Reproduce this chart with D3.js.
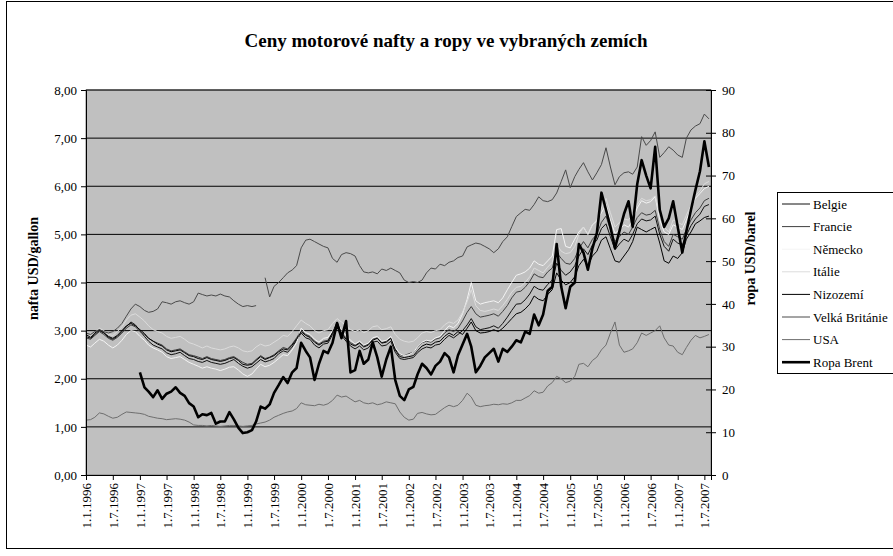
<!DOCTYPE html>
<html>
<head>
<meta charset="utf-8">
<script src="https://cdn.jsdelivr.net/npm/d3@7/dist/d3.min.js"></script>
<style>
  body { margin: 0; background: #fff; }
  svg text { font-family: "Liberation Serif", "Times New Roman", "DejaVu Serif", serif; fill: #000; }
</style>
</head>
<body>
<div id="chart"></div>
<script>
// monthly values, Jan 1996 .. Aug 2007 (USD/gallon)
const belgie = [
  2.88, 2.84, 2.92, 3.00, 2.95, 2.86, 2.82, 2.88, 2.98, 3.08, 3.18, 3.12,
  3.00, 2.88, 2.78, 2.70, 2.66, 2.62, 2.54, 2.50, 2.52, 2.55, 2.48, 2.42,
  2.40, 2.36, 2.34, 2.38, 2.34, 2.32, 2.30, 2.32, 2.36, 2.40, 2.32, 2.26,
  2.22, 2.25, 2.32, 2.40, 2.35, 2.38, 2.42, 2.52, 2.58, 2.55, 2.66, 2.80,
  2.95, 2.85, 2.82, 2.70, 2.64, 2.72, 2.74, 2.92, 3.15, 2.90, 2.78, 2.68,
  2.62, 2.68, 2.60, 2.64, 2.76, 2.78, 2.68, 2.70, 2.78, 2.55, 2.42, 2.40,
  2.42, 2.44, 2.54, 2.62, 2.66, 2.64, 2.70, 2.72, 2.82, 2.90, 2.85, 2.92,
  3.00, 3.12, 3.25, 3.08, 3.02, 3.04, 3.06, 3.10, 3.05, 3.15, 3.28, 3.42,
  3.55, 3.56, 3.64, 3.76, 3.92, 3.86, 3.84, 3.96, 4.05, 4.40, 4.25, 4.15,
  4.22, 4.35, 4.55, 4.70, 4.58, 4.78, 4.88, 5.12, 5.22, 4.95, 4.68, 4.80,
  4.90, 4.85, 5.00, 5.22, 5.32, 5.28, 5.30, 5.38, 5.00, 4.75, 4.65, 4.90,
  4.82, 4.78, 4.98, 5.18, 5.32, 5.42, 5.58, 5.62
];
const francie = [
  2.85, 2.82, 2.90, 2.98, 2.92, 2.84, 2.80, 2.86, 2.95, 3.05, 3.12, 3.08,
  2.98, 2.92, 2.84, 2.78, 2.74, 2.70, 2.62, 2.58, 2.60, 2.62, 2.56, 2.50,
  2.48, 2.45, 2.42, 2.46, 2.42, 2.40, 2.38, 2.40, 2.44, 2.46, 2.40, 2.34,
  2.30, 2.32, 2.40, 2.48, 2.42, 2.45, 2.50, 2.58, 2.65, 2.62, 2.72, 2.85,
  3.00, 2.92, 2.88, 2.78, 2.72, 2.78, 2.80, 2.95, 3.08, 2.95, 2.85, 2.75,
  2.70, 2.75, 2.68, 2.72, 2.82, 2.85, 2.75, 2.78, 2.85, 2.62, 2.50, 2.48,
  2.52, 2.55, 2.65, 2.75, 2.78, 2.76, 2.82, 2.85, 2.95, 3.02, 2.98, 3.05,
  3.20, 3.38, 3.50, 3.35, 3.28, 3.30, 3.32, 3.35, 3.30, 3.40, 3.52, 3.68,
  3.80, 3.82, 3.90, 4.02, 4.18, 4.12, 4.10, 4.22, 4.30, 4.62, 4.50, 4.40,
  4.38, 4.50, 4.70, 4.85, 4.72, 4.90, 5.00, 5.25, 5.38, 5.10, 4.85, 4.95,
  5.05, 5.00, 5.15, 5.35, 5.45, 5.40, 5.42, 5.50, 5.10, 4.85, 4.75, 5.00,
  4.95, 4.90, 5.10, 5.30, 5.45, 5.55, 5.70, 5.75
];
const nemecko = [
  2.70, 2.66, 2.74, 2.82, 2.78, 2.70, 2.64, 2.70, 2.80, 2.92, 3.00, 2.98,
  2.88, 2.80, 2.70, 2.64, 2.60, 2.55, 2.46, 2.42, 2.44, 2.46, 2.40, 2.34,
  2.30, 2.26, 2.22, 2.25, 2.22, 2.20, 2.17, 2.20, 2.24, 2.25, 2.18, 2.10,
  2.05, 2.10, 2.20, 2.30, 2.25, 2.28, 2.34, 2.42, 2.50, 2.48, 2.60, 2.75,
  3.05, 2.96, 2.92, 2.82, 2.76, 2.84, 2.86, 3.00, 3.15, 3.02, 2.90, 2.80,
  2.72, 2.78, 2.70, 2.74, 2.85, 2.88, 2.78, 2.80, 2.88, 2.65, 2.52, 2.48,
  2.50, 2.55, 2.66, 2.76, 2.80, 2.78, 2.85, 2.88, 3.00, 3.10, 3.06, 3.15,
  3.35, 3.65, 4.00, 3.62, 3.55, 3.58, 3.60, 3.62, 3.58, 3.68, 3.85, 4.00,
  4.15, 4.18, 4.22, 4.30, 4.45, 4.38, 4.35, 4.45, 4.55, 5.10, 5.12, 4.75,
  4.72, 4.90, 5.05, 5.15, 5.00, 5.20, 5.28, 5.45, 5.62, 5.30, 5.02, 5.10,
  5.20, 5.15, 5.30, 5.55, 5.70, 5.65, 5.68, 5.78, 5.30, 5.05, 5.00, 5.20,
  5.15, 5.10, 5.30, 5.55, 5.75, 5.85, 5.95, 6.00
];
const italie = [
  2.90, 2.88, 2.96, 3.05, 3.00, 2.92, 2.90, 2.98, 3.08, 3.22, 3.32, 3.35,
  3.28, 3.20, 3.10, 3.02, 2.98, 2.95, 2.88, 2.84, 2.86, 2.88, 2.82, 2.75,
  2.72, 2.68, 2.64, 2.68, 2.64, 2.62, 2.60, 2.62, 2.66, 2.68, 2.64, 2.58,
  2.56, 2.58, 2.66, 2.72, 2.68, 2.70, 2.76, 2.82, 2.90, 2.88, 2.98, 3.10,
  3.22, 3.15, 3.10, 3.00, 2.95, 3.00, 3.02, 3.15, 3.25, 3.18, 3.10, 3.02,
  2.98, 3.02, 2.96, 3.00, 3.08, 3.10, 3.02, 3.04, 3.08, 2.92, 2.82, 2.78,
  2.76, 2.78, 2.85, 2.95, 2.98, 2.96, 3.00, 3.02, 3.12, 3.18, 3.15, 3.22,
  3.38, 3.60, 3.85, 3.52, 3.42, 3.40, 3.42, 3.45, 3.42, 3.52, 3.65, 3.80,
  3.90, 3.92, 4.00, 4.12, 4.30, 4.25, 4.20, 4.32, 4.42, 4.80, 4.65, 4.60,
  4.62, 4.75, 5.00, 5.15, 5.00, 5.20, 5.30, 5.55, 5.75, 5.45, 5.15, 5.25,
  5.32, 5.30, 5.42, 5.62, 5.75, 5.70, 5.72, 5.80, 5.40, 5.15, 5.05, 5.30,
  5.25, 5.20, 5.40, 5.60, 5.80, 5.90, 6.05, 6.10
];
const nizozemi = [
  2.92, 2.86, 2.95, 3.02, 2.96, 2.88, 2.84, 2.90, 3.00, 3.10, 3.15, 3.10,
  3.02, 2.94, 2.84, 2.78, 2.72, 2.68, 2.60, 2.56, 2.58, 2.60, 2.54, 2.48,
  2.46, 2.42, 2.40, 2.44, 2.40, 2.38, 2.36, 2.38, 2.42, 2.44, 2.38, 2.30,
  2.28, 2.30, 2.38, 2.46, 2.40, 2.44, 2.48, 2.56, 2.62, 2.60, 2.70, 2.82,
  2.98, 2.90, 2.86, 2.76, 2.70, 2.76, 2.78, 2.96, 3.18, 2.94, 2.82, 2.72,
  2.68, 2.74, 2.66, 2.70, 2.80, 2.84, 2.74, 2.76, 2.84, 2.60, 2.46, 2.44,
  2.46, 2.48, 2.58, 2.68, 2.72, 2.70, 2.76, 2.78, 2.88, 2.95, 2.90, 2.98,
  2.92, 3.05, 3.18, 3.00, 2.95, 2.96, 2.98, 3.02, 2.98, 3.05, 3.15, 3.25,
  3.35, 3.38, 3.45, 3.55, 3.72, 3.65, 3.62, 3.75, 3.85, 4.20, 4.05, 3.95,
  4.00, 4.12, 4.35, 4.48, 4.35, 4.55, 4.65, 4.88, 4.95, 4.70, 4.45, 4.42,
  4.55, 4.68, 4.85, 5.15, 5.10, 5.05, 5.10, 5.15, 4.82, 4.45, 4.40, 4.55,
  4.50, 4.62, 4.90, 5.05, 5.22, 5.28, 5.35, 5.38
];
const velkaBritanie = [
  2.95, 2.92, 2.98, 3.02, 2.98, 2.95, 2.98, 3.05, 3.15, 3.30, 3.45, 3.55,
  3.50, 3.42, 3.38, 3.40, 3.45, 3.60, 3.58, 3.55, 3.60, 3.62, 3.58, 3.55,
  3.60, 3.78, 3.75, 3.72, 3.74, 3.72, 3.76, 3.72, 3.70, 3.62, 3.55, 3.50,
  3.52, 3.50, 3.52, null, 4.10, 3.70, 3.92, 4.00, 4.10, 4.20, 4.26, 4.35,
  4.72, 4.88, 4.90, 4.85, 4.80, 4.75, 4.72, 4.50, 4.42, 4.58, 4.62, 4.60,
  4.55, 4.35, 4.22, 4.20, 4.22, 4.18, 4.28, 4.25, 4.30, 4.25, 4.20, 4.05,
  4.00, 4.02, 4.00, 4.05, 4.20, 4.30, 4.28, 4.38, 4.35, 4.42, 4.45, 4.52,
  4.55, 4.74, 4.78, 4.82, 4.80, 4.75, 4.70, 4.62, 4.70, 4.85, 4.95, 5.16,
  5.37, 5.45, 5.52, 5.50, 5.62, 5.78, 5.70, 5.68, 5.72, 5.86, 6.10, 6.34,
  5.97, 6.20, 6.35, 6.49, 6.30, 6.13, 6.28, 6.45, 6.80, 6.40, 6.03, 6.20,
  6.28, 6.30, 6.25, 6.40, 7.03, 6.85, 6.95, 7.13, 6.60, 6.70, 6.82, 6.75,
  6.65, 6.60, 7.00, 7.17, 7.25, 7.30, 7.50, 7.40
];
const usa = [
  1.14, 1.15, 1.20, 1.29, 1.27, 1.22, 1.18, 1.20, 1.26, 1.31, 1.30, 1.29,
  1.28, 1.26, 1.22, 1.20, 1.18, 1.17, 1.15, 1.16, 1.17, 1.16, 1.14, 1.10,
  1.04, 1.03, 1.03, 1.02, 1.03, 1.02, 1.01, 1.02, 1.03, 1.03, 1.02, 1.01,
  1.02, 1.03, 1.06, 1.08, 1.10, 1.14, 1.20, 1.24, 1.28, 1.31, 1.33, 1.38,
  1.50, 1.46, 1.45, 1.44, 1.47, 1.45, 1.48, 1.55, 1.66, 1.62, 1.64, 1.58,
  1.52, 1.55, 1.50, 1.48, 1.50, 1.46, 1.48, 1.52, 1.50, 1.48, 1.31, 1.20,
  1.14, 1.16, 1.28, 1.30, 1.27, 1.25, 1.26, 1.33, 1.40, 1.45, 1.42, 1.45,
  1.55, 1.70, 1.62, 1.45, 1.42, 1.44, 1.45, 1.47, 1.46, 1.48, 1.47, 1.50,
  1.55, 1.55, 1.60, 1.65, 1.75, 1.70, 1.72, 1.85, 1.92, 2.05, 2.00, 1.92,
  1.95, 2.05, 2.30, 2.32, 2.25, 2.38, 2.45, 2.60, 2.70, 2.95, 3.18, 2.70,
  2.55, 2.58, 2.62, 2.75, 2.95, 2.90, 2.95, 3.00, 3.10, 2.85, 2.70, 2.68,
  2.55, 2.50, 2.65, 2.80, 2.90, 2.85, 2.88, 2.92
];
// Brent, USD/barrel (right axis), starts Jan 1997
const ropaBrent = [
  null, null, null, null, null, null, null, null, null, null, null, null,
  24.0, 20.5, 19.5, 18.2, 19.8, 17.8, 19.0, 19.5, 20.5, 19.2, 18.5, 16.8,
  16.0, 13.5, 14.2, 14.0, 14.5, 12.0, 12.5, 12.5, 14.7, 13.0, 11.0, 9.8,
  10.0, 10.5, 12.5, 16.0, 15.5, 16.5, 19.2, 21.0, 22.9, 21.5, 24.0, 25.0,
  30.9, 29.0, 27.5, 22.2, 26.0, 29.0, 28.5, 30.9, 35.5, 32.0, 36.0, 24.0,
  24.5, 29.0, 26.0, 27.0, 31.0, 27.5, 23.0, 27.0, 30.0, 22.2, 18.5, 17.5,
  20.0, 20.6, 23.5, 26.0, 25.0, 23.5, 25.5, 26.5, 28.5, 27.5, 24.0, 28.0,
  30.5, 33.0, 30.0, 24.0, 25.5, 27.5, 28.5, 29.5, 26.5, 29.5, 28.8, 30.0,
  31.5, 31.0, 33.5, 33.0, 37.5, 35.0, 37.5, 43.0, 44.0, 54.0, 44.0, 39.0,
  44.0, 45.0, 54.0, 52.0, 48.0, 53.0, 56.6, 66.0, 62.0, 58.0, 53.0, 57.0,
  61.0, 64.0, 58.0, 68.0, 73.6, 70.0, 67.0, 76.7, 62.0, 58.0, 60.0, 64.0,
  58.0, 52.0, 57.0, 62.0, 66.6, 71.0, 78.0, 72.0
];

const seriesNames = ['Belgie', 'Francie', 'Německo', 'Itálie', 'Nizozemí', 'Velká Británie', 'USA', 'Ropa Brent'];
const seriesData = [belgie, francie, nemecko, italie, nizozemi, velkaBritanie, usa, ropaBrent];
const xTickLabels = ['1.1.1996', '1.7.1996', '1.1.1997', '1.7.1997', '1.1.1998', '1.7.1998',
  '1.1.1999', '1.7.1999', '1.1.2000', '1.7.2000', '1.1.2001', '1.7.2001',
  '1.1.2002', '1.7.2002', '1.1.2003', '1.7.2003', '1.1.2004', '1.7.2004',
  '1.1.2005', '1.7.2005', '1.1.2006', '1.7.2006', '1.1.2007', '1.7.2007'];
const leftTicks = [0, 1, 2, 3, 4, 5, 6, 7, 8];
const rightTicks = [0, 10, 20, 30, 40, 50, 60, 70, 80, 90];

const colors = ['#111111', '#3f3f3f', '#f4f4f4', '#dcdcdc', '#000000', '#4a4a4a', '#6e6e6e', '#000000'];
const widths = [1, 1, 1, 1, 1, 1, 1, 2.6];
const serif = '"Liberation Serif", "Times New Roman", "DejaVu Serif", serif';

const W = 893, H = 556;
const margin = {left: 86, top: 90, right: 182, bottom: 81};
const pw = W - margin.left - margin.right;
const ph = H - margin.top - margin.bottom;

const parseD = d3.timeParse('%d.%m.%Y');
const start = new Date(1996, 0, 1);

const x = d3.scaleTime().domain([start, new Date(2007, 7, 15)]).range([0, pw]);
const yL = d3.scaleLinear().domain([0, 8]).range([ph, 0]);
const yR = d3.scaleLinear().domain([0, 90]).range([ph, 0]);

const svg = d3.select('#chart').append('svg').attr('width', W).attr('height', H);

// chart frame
svg.append('rect').attr('x', 6.5).attr('y', 1.5).attr('width', 900).attr('height', 547)
  .attr('fill', '#fff').attr('stroke', '#000').attr('stroke-width', 1);

svg.append('text').attr('x', 446).attr('y', 47).attr('text-anchor', 'middle')
  .style('font-family', serif).style('font-weight', 'bold').style('font-size', '19px')
  .text('Ceny motorové nafty  a ropy ve vybraných zemích');

const plot = svg.append('g').attr('transform', 'translate(' + margin.left + ',' + margin.top + ')');

plot.append('rect').attr('width', pw).attr('height', ph).attr('fill', '#c0c0c0')
  .attr('stroke', '#808080');

// gridlines
plot.append('g').selectAll('line').data(leftTicks.slice(1)).enter().append('line')
  .attr('x1', 0).attr('x2', pw).attr('y1', d => yL(d)).attr('y2', d => yL(d))
  .attr('stroke', '#000').attr('stroke-width', 1);

// series
const line = (scale) => d3.line()
  .defined(d => d != null)
  .x((d, i) => x(d3.timeMonth.offset(start, i)))
  .y(d => scale(d));

seriesData.forEach((s, i) => {
  plot.append('path').datum(s)
    .attr('fill', 'none')
    .attr('stroke', colors[i])
    .attr('stroke-width', widths[i])
    .attr('stroke-linejoin', 'round')
    .attr('d', line(i === 7 ? yR : yL));
});

// axes
const fmt = v => d3.format('.2f')(v).replace('.', ',');
const axL = plot.append('g').call(d3.axisLeft(yL).tickValues(leftTicks).tickFormat(fmt).tickSize(5).tickPadding(4));
const axR = plot.append('g').attr('transform', 'translate(' + pw + ',0)')
  .call(d3.axisRight(yR).tickValues(rightTicks).tickSize(5).tickPadding(6));
axR.selectAll('.tick line').attr('x1', -5);
const axB = plot.append('g').attr('transform', 'translate(0,' + ph + ')')
  .call(d3.axisBottom(x).tickValues(xTickLabels.map(parseD)).tickFormat(d3.timeFormat('%-d.%-m.%Y')).tickSize(5));
axB.selectAll('text').attr('transform', 'rotate(-90)').attr('text-anchor', 'end')
  .attr('x', -8).attr('y', 0).attr('dy', '0.35em');

[axL, axR, axB].forEach(a => {
  a.attr('font-family', null);
  a.selectAll('text').style('font-size', '13px').style('font-family', serif);
  a.selectAll('.domain, .tick line').attr('stroke', '#000');
});

// axis titles
svg.append('text').attr('transform', 'translate(38,' + (margin.top + ph / 2 - 14) + ') rotate(-90)')
  .attr('text-anchor', 'middle').style('font-family', serif).style('font-weight', 'bold').style('font-size', '14px')
  .text('nafta USD/gallon');
svg.append('text').attr('transform', 'translate(755,' + (margin.top + ph / 2 - 24) + ') rotate(-90)')
  .attr('text-anchor', 'middle').style('font-family', serif).style('font-weight', 'bold').style('font-size', '14px')
  .text('ropa USD/barel');

// legend
const lg = svg.append('g').attr('transform', 'translate(777,192)');
lg.append('rect').attr('x', 0.5).attr('y', 0.5).attr('width', 130).attr('height', 181)
  .attr('fill', '#fff').attr('stroke', '#000');
const items = lg.selectAll('.item').data(seriesNames).enter().append('g')
  .attr('transform', (d, i) => 'translate(0,' + (12 + i * 22.6) + ')');
items.append('line').attr('x1', 5).attr('x2', 33).attr('y1', 0).attr('y2', 0)
  .attr('stroke', (d, i) => colors[i]).attr('stroke-width', (d, i) => widths[i]);
items.append('text').attr('x', 36).attr('y', 0).attr('dy', '0.35em')
  .style('font-family', serif).style('font-size', '13px').text(d => d);
</script>
</body>
</html>
